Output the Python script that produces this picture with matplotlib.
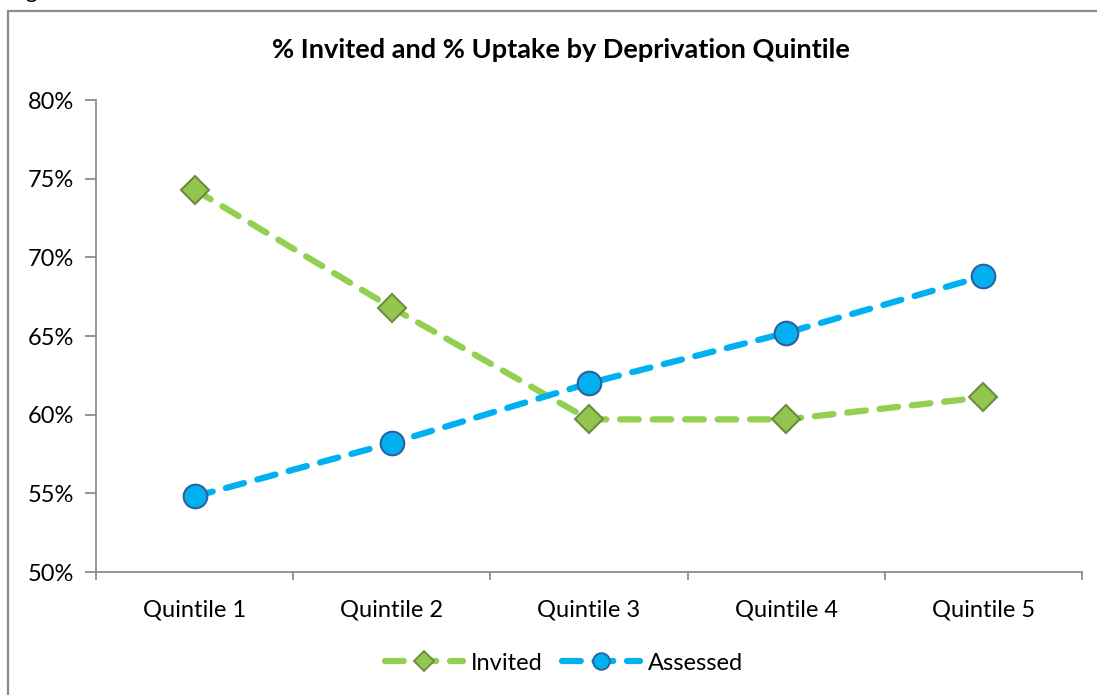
import matplotlib.pyplot as plt
from matplotlib.patches import Rectangle
from matplotlib.lines import Line2D

plt.rcParams['font.family'] = ['Lato', 'DejaVu Sans']

quintiles = ["Quintile 1", "Quintile 2", "Quintile 3", "Quintile 4", "Quintile 5"]
invited = [74.3, 66.8, 59.7, 59.7, 61.1]
assessed = [54.8, 58.2, 62.0, 65.2, 68.8]
yticks = [50, 55, 60, 65, 70, 75, 80]

green = "#92D050"
blue = "#00B0F0"

fig = plt.figure(figsize=(10.97, 6.95), dpi=100)

# outer chart frame, runs off the right and bottom edges
fig.patches.append(Rectangle((8/1097, -0.05), 1.2, 1 - 11/695 + 0.05,
                             transform=fig.transFigure, fill=False,
                             edgecolor="#8c8c8c", linewidth=1.6))
# caption above the frame (mostly cut off)
fig.text(8/1097, 1.0 + 2/695, "Figure", fontsize=16, va="baseline", ha="left")

ax = fig.add_axes([96/1097, 1 - 572/695, (1082 - 96)/1097, (572 - 100)/695])
x = list(range(len(quintiles)))

ax.plot(x, invited, color=green, linewidth=4.5, dashes=(3, 2.2),
        dash_capstyle="round", marker="D", markersize=14,
        markerfacecolor="#92C64E", markeredgecolor="#6E8B3D",
        markeredgewidth=1.5, zorder=3)
ax.plot(x, assessed, color=blue, linewidth=4.5, dashes=(3, 2.2),
        dash_capstyle="round", marker="o", markersize=17,
        markerfacecolor=blue, markeredgecolor="#2F5F9E",
        markeredgewidth=1.5, zorder=4)

ax.set_xlim(-0.5, 4.5)
ax.set_ylim(50, 80)
ax.set_yticks(yticks)
ax.set_yticklabels([f"{v}%" for v in yticks])
ax.set_xticks(x)
ax.set_xticklabels(quintiles)
ax.set_xticks([i - 0.5 for i in range(6)], minor=True)
ax.tick_params(axis="x", which="major", length=0, pad=20, labelsize=17)
ax.tick_params(axis="x", which="minor", length=6, color="#8c8c8c", width=1.3)
ax.tick_params(axis="y", length=8, color="#8c8c8c", width=1.3, pad=8, labelsize=17)

for s in ["top", "right"]:
    ax.spines[s].set_visible(False)
for s in ["left", "bottom"]:
    ax.spines[s].set_color("#8c8c8c")
    ax.spines[s].set_linewidth(1.3)

fig.text(561/1097, 1 - 50/695, "% Invited and % Uptake by Deprivation Quintile",
         ha="center", va="center", fontsize=19.5, fontweight="bold")

handles = [
    Line2D([], [], color=green, linewidth=4.5, dashes=(3, 2.2), dash_capstyle="round",
           marker="D", markersize=10, markerfacecolor="#92C64E",
           markeredgecolor="#6E8B3D", markeredgewidth=1.3),
    Line2D([], [], color=blue, linewidth=4.5, dashes=(3, 2.2), dash_capstyle="round",
           marker="o", markersize=12, markerfacecolor=blue,
           markeredgecolor="#2F5F9E", markeredgewidth=1.3),
]
fig.legend(handles, ["Invited", "Assessed"], loc="center",
           bbox_to_anchor=(564/1097, 1 - 663/695), ncol=2, frameon=False,
           fontsize=17, handlelength=3.3, handletextpad=0.35, columnspacing=0.8)

fig.savefig("out.png", dpi=100)
